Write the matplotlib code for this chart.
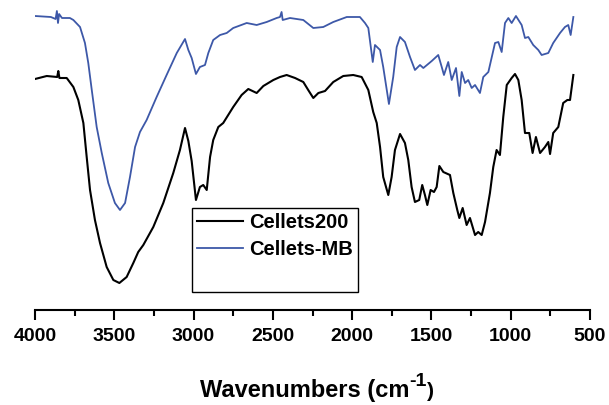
import numpy as np
import matplotlib
matplotlib.use('Agg')
import matplotlib.pyplot as plt
from matplotlib.ticker import MultipleLocator

# FTIR spectra, values (arbitrary transmittance units)
wn_cellets200 = [4000, 3926, 3860, 3853, 3846, 3800, 3758, 3727, 3695, 3674, 3653, 3622, 3590,
                 3548, 3506, 3468, 3422, 3380, 3349, 3317, 3254, 3191, 3128, 3086, 3054, 3033,
                 3012, 2985, 2960, 2939, 2917, 2896, 2876, 2844, 2813, 2750, 2697, 2655, 2602,
                 2560, 2497, 2455, 2413, 2360, 2308, 2277, 2245, 2213, 2171, 2119, 2056, 1993,
                 1940, 1898, 1867, 1845, 1824, 1804, 1772, 1751, 1730, 1698, 1667, 1646, 1625,
                 1604, 1577, 1558, 1541, 1526, 1505, 1484, 1467, 1450, 1425, 1383, 1362, 1337,
                 1324, 1303, 1278, 1257, 1225, 1205, 1183, 1162, 1131, 1110, 1089, 1068, 1047,
                 1025, 994, 973, 952, 931, 910, 883, 862, 841, 815, 784, 763, 752, 732, 700,
                 669, 643, 626, 605]
t_cellets200 = [231, 234, 233, 239, 232, 232, 223, 210, 187, 153, 120, 90, 67,
                43, 30, 27, 33, 47, 58, 65, 83, 107, 137, 160, 182, 169,
                149, 110, 123, 125, 120, 153, 170, 183, 187, 203, 215, 221, 217,
                224, 230, 233, 235, 232, 228, 220, 212, 217, 219, 228, 234, 235,
                233, 220, 198, 187, 163, 133, 115, 133, 160, 176, 167, 150, 123,
                108, 110, 125, 115, 105, 120, 118, 123, 144, 138, 135, 117, 100,
                92, 102, 85, 92, 75, 78, 75, 88, 117, 143, 160, 155, 193,
                225, 232, 236, 230, 210, 177, 177, 157, 173, 157, 163, 168, 156, 177, 183,
                207, 210, 210, 235]

wn_cellets_mb = [4000, 3900, 3870, 3862, 3855, 3848, 3830, 3780, 3758, 3716, 3685, 3664, 3642,
                 3611, 3579, 3538, 3496, 3464, 3432, 3401, 3369, 3338, 3296, 3233, 3170, 3106,
                 3054, 3033, 3012, 2985, 2960, 2928, 2907, 2876, 2833, 2791, 2750, 2665, 2602,
                 2539, 2476, 2455, 2445, 2438, 2392, 2308, 2245, 2182, 2119, 2034, 1951, 1919,
                 1898, 1870, 1856, 1824, 1804, 1768, 1741, 1719, 1698, 1667, 1635, 1604, 1572,
                 1551, 1498, 1457, 1435, 1421, 1394, 1372, 1345, 1324, 1309, 1288, 1268, 1246,
                 1225, 1194, 1173, 1141, 1099, 1078, 1057, 1036, 1015, 994, 967, 931, 910, 889,
                 858, 826, 805, 763, 732, 689, 658, 637, 622, 605]
t_cellets_mb = [294, 293, 291, 299, 287, 296, 292, 292, 290, 283, 267, 247, 220,
                183, 157, 127, 107, 100, 107, 133, 163, 178, 190, 213, 235, 257,
                271, 260, 252, 236, 243, 245, 257, 270, 275, 277, 282, 287, 285,
                288, 292, 293, 298, 290, 292, 290, 282, 283, 288, 293, 293, 287,
                282, 248, 265, 260, 243, 206, 233, 263, 273, 268, 253, 240, 245,
                242, 249, 255, 243, 235, 248, 230, 242, 214, 238, 227, 230, 222,
                225, 217, 233, 238, 267, 268, 258, 287, 292, 287, 294, 285, 272, 273,
                265, 260, 255, 257, 267, 277, 283, 285, 275, 293]

labels = ['Cellets200', 'Cellets-MB']
colors = ['black', '#3d58a8']

#%%
fam = ['Liberation Sans', 'DejaVu Sans']

fig = plt.figure(figsize=(6.09, 4.05), dpi=100)
ax = fig.add_axes([35/609, 95/405, 555/609, 310/405])

l1, = ax.plot(wn_cellets200, t_cellets200, color=colors[0], lw=1.5, label=labels[0])
l2, = ax.plot(wn_cellets_mb, t_cellets_mb, color=colors[1], lw=1.3, label=labels[1])
blank, = ax.plot([], [], color='none', label=' ')

ax.set_xlim(4000, 500)
ax.set_ylim(0, 310)
for s in ['top', 'right', 'left']:
    ax.spines[s].set_visible(False)
ax.spines['bottom'].set_linewidth(1.5)
ax.set_yticks([])
ax.xaxis.set_major_locator(MultipleLocator(500))
ax.xaxis.set_minor_locator(MultipleLocator(250))
ax.tick_params(axis='x', which='major', length=7, width=1.5, pad=6)
ax.tick_params(axis='x', which='minor', length=4, width=1.5)
for t in ax.get_xticklabels():
    t.set_fontfamily(fam)
    t.set_fontweight('bold')
    t.set_fontsize(14)

leg = ax.legend(handles=[l1, l2, blank], loc='upper left',
                bbox_to_anchor=((192-35)/555, (310-208)/310), borderaxespad=0,
                prop={'family': fam, 'weight': 'bold', 'size': 14.5},
                handlelength=2.3, handletextpad=0.3, labelspacing=0.42, borderpad=0.25,
                fancybox=False, framealpha=1, edgecolor='black')
leg.get_frame().set_linewidth(1.0)

# x label pieces: the -1 superscript is nearly full size in the original
fig.text(410/609, 1-397/405, 'Wavenumbers (cm', ha='right', va='baseline',
         fontsize=17, fontweight='bold', family=fam)
fig.text(409/609, 1-386/405, '-1', ha='left', va='baseline',
         fontsize=14, fontweight='bold', family=fam)
fig.text(427/609, 1-397/405, ')', ha='left', va='baseline',
         fontsize=15, fontweight='bold', family=fam)

plt.savefig('out.png', dpi=100)
